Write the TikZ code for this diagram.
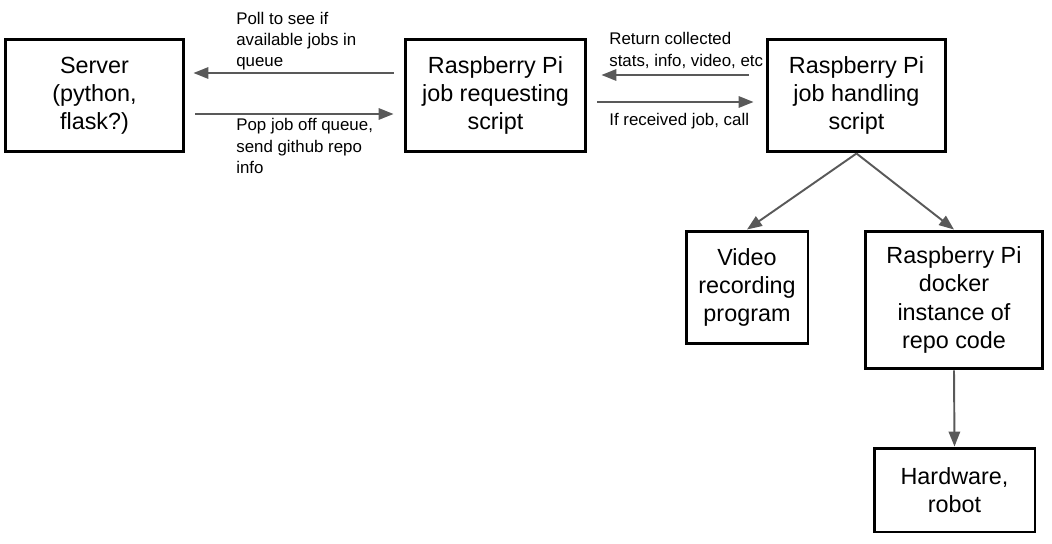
\documentclass[tikz,border=0pt]{standalone}
\usepackage{fontspec}
\setmainfont{Liberation Sans}
\usetikzlibrary{arrows.meta}
\definecolor{arrowgray}{HTML}{595959}
\tikzset{
	box/.style={draw=black, line width=1.7pt, align=center, inner sep=0pt,
		font=\fontsize{13.3}{16}\selectfont},
	msg/.style={align=left, anchor=west, inner sep=0pt,
		font=\fontsize{9.6}{12}\selectfont},
	conn/.style={draw=arrowgray, line width=1.1pt, -{Triangle[length=8.5pt, width=6.5pt]}}
}

\begin{document}
\begin{tikzpicture}[x=0.02cm, y=-0.02cm]
		%%%%% START %%%%%
		\useasboundingbox (0, 0) rectangle (1052, 544);
		
		\node[box, minimum width=3.58cm, minimum height=2.26cm] (server) at (94.5, 95.5) {Server\\(python,\\flask?)};
		\node[box, minimum width=3.62cm, minimum height=2.26cm] (request) at (495.5, 95.5) {Raspberry Pi\\job requesting\\script};
		\node[box, minimum width=3.58cm, minimum height=2.26cm] (handle) at (856.5, 95.5) {Raspberry Pi\\job handling\\script};
		
		\node[box, minimum width=2.44cm, minimum height=2.26cm] (video) at (747, 287.5) {Video\\recording\\program};
		\node[box, minimum width=3.56cm, minimum height=2.76cm] (docker) at (954, 300) {Raspberry Pi\\docker\\instance of\\repo code};
		\node[box, minimum width=3.22cm, minimum height=1.68cm] (hardware) at (954.5, 490) {Hardware,\\robot};
		
		\draw[conn, shorten <=0.2cm, shorten >=0.16cm] ([yshift=0.45cm]request.west) -- ([yshift=0.45cm]server.east);
		\draw[conn, shorten <=0.2cm, shorten >=0.2cm] ([yshift=-0.37cm]server.east) -- ([yshift=-0.37cm]request.west);
		\node[msg] (poll) at (236, 41.5) {Poll to see if\\available jobs in\\queue};
		\node[msg] (pop) at (236, 146) {Pop job off queue,\\send github repo\\info};
		
		\draw[conn, shorten <=0.34cm, shorten >=0.28cm] ([yshift=0.41cm]handle.west) -- ([yshift=0.41cm]request.east);
		\draw[conn, shorten <=0.2cm, shorten >=0.24cm] ([yshift=-0.13cm]request.east) -- ([yshift=-0.13cm]handle.west);
		\node[msg] (ret) at (609, 50.5) {Return collected\\stats, info, video, etc};
		\node[msg] (call) at (609, 121) {If received job, call};
		
		\draw[conn] (handle.south) -- (video.north);
		\draw[conn] (handle.south) -- (docker.north);
		\draw[conn] (docker.south) -- (hardware.north);
		
		%%%%% END %%%%%
	\end{tikzpicture}
\end{document}
